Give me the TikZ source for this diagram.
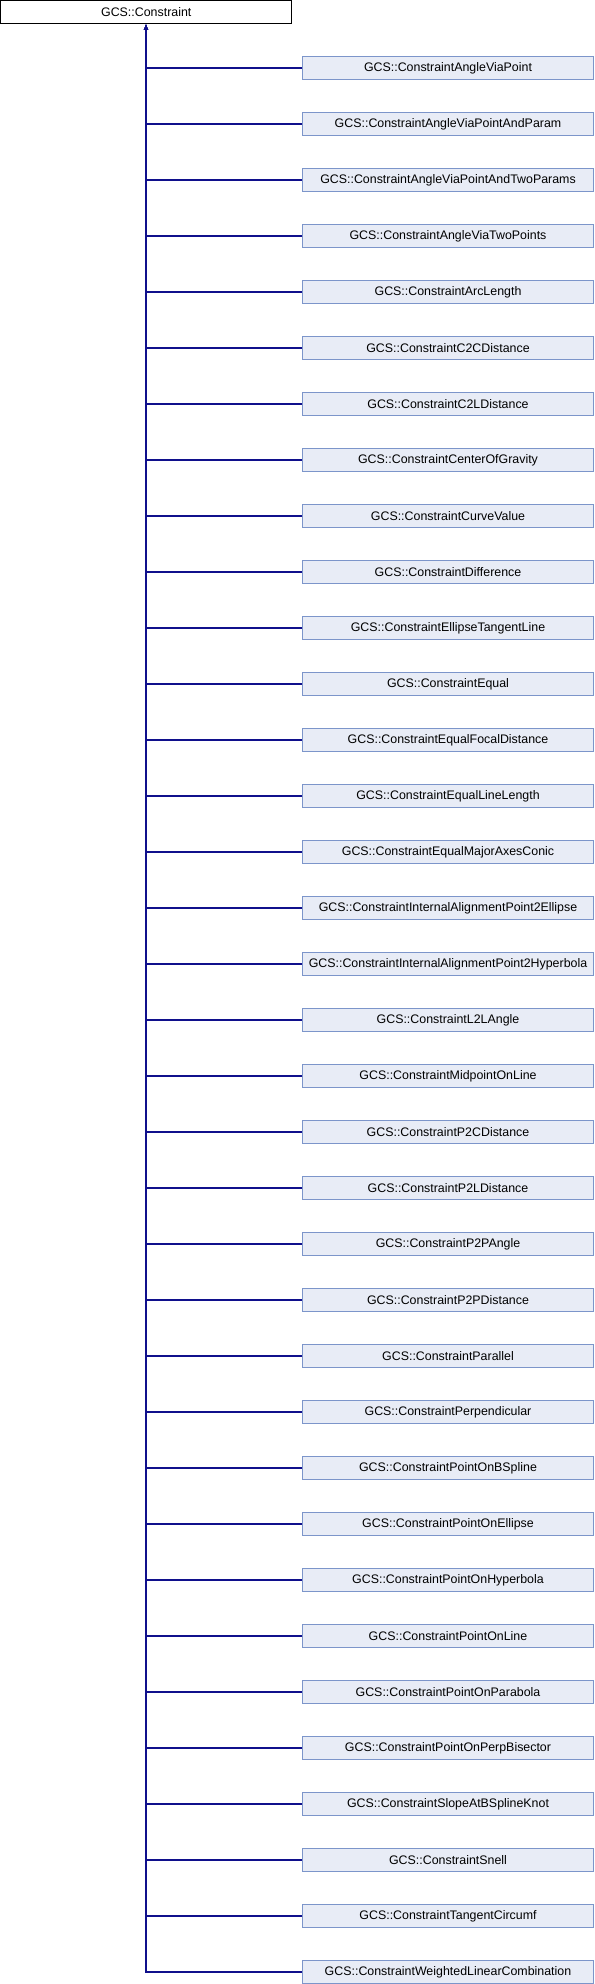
\documentclass[tikz,border=0pt]{standalone}
\usepackage{fontspec}
\setmainfont{Liberation Sans}
\usepackage{tikz}
\usetikzlibrary{arrows.meta}
\usepackage{xcolor}
\definecolor{edgeblue}{RGB}{16,16,140}
\definecolor{boxline}{RGB}{124,149,202}
\definecolor{boxfill}{RGB}{232,236,246}
\tikzset{
  classbox/.style={draw=boxline,fill=boxfill,line width=0.75pt,minimum width=218.25pt,minimum height=17pt,inner sep=0pt,font=\fontsize{9.3}{11}\selectfont},
  basebox/.style={classbox,draw=black,fill=white,minimum width=218.6pt,minimum height=16.9pt},
  inherit/.style={draw=edgeblue,line width=0.9pt,-{Latex[length=3.8pt,width=3.2pt]}}
}
\begin{document}
\begin{tikzpicture}[x=0.75pt,y=-0.75pt]
\useasboundingbox (0,0) rectangle (594,1984);
\node[basebox] (base) at (146.25,11.75) {GCS::Constraint};% the base class
\coordinate (top) at (146,24.5);% arrow tip under the base class

% the derived classes
\node[classbox] (avp) at (448,68) {GCS::ConstraintAngleViaPoint};
\node[classbox] (avpp) at (448,124) {GCS::ConstraintAngleViaPointAndParam};
\node[classbox] (avptp) at (448,180) {GCS::ConstraintAngleViaPointAndTwoParams};
\node[classbox] (avtp) at (448,236) {GCS::ConstraintAngleViaTwoPoints};
\node[classbox] (arc) at (448,292) {GCS::ConstraintArcLength};
\node[classbox] (ccd) at (448,348) {GCS::ConstraintC2CDistance};
\node[classbox] (cld) at (448,404) {GCS::ConstraintC2LDistance};
\node[classbox] (cog) at (448,460) {GCS::ConstraintCenterOfGravity};
\node[classbox] (curve) at (448,516) {GCS::ConstraintCurveValue};
\node[classbox] (diff) at (448,572) {GCS::ConstraintDifference};
\node[classbox] (etl) at (448,628) {GCS::ConstraintEllipseTangentLine};
\node[classbox] (equal) at (448,684) {GCS::ConstraintEqual};
\node[classbox] (efd) at (448,740) {GCS::ConstraintEqualFocalDistance};
\node[classbox] (ell) at (448,796) {GCS::ConstraintEqualLineLength};
\node[classbox] (emac) at (448,852) {GCS::ConstraintEqualMajorAxesConic};
\node[classbox] (iae) at (448,908) {GCS::ConstraintInternalAlignmentPoint2Ellipse};
\node[classbox] (iah) at (448,964) {GCS::ConstraintInternalAlignmentPoint2Hyperbola};
\node[classbox] (lla) at (448,1020) {GCS::ConstraintL2LAngle};
\node[classbox] (mol) at (448,1076) {GCS::ConstraintMidpointOnLine};
\node[classbox] (pcd) at (448,1132) {GCS::ConstraintP2CDistance};
\node[classbox] (pld) at (448,1188) {GCS::ConstraintP2LDistance};
\node[classbox] (ppa) at (448,1244) {GCS::ConstraintP2PAngle};
\node[classbox] (ppd) at (448,1300) {GCS::ConstraintP2PDistance};
\node[classbox] (par) at (448,1356) {GCS::ConstraintParallel};
\node[classbox] (perp) at (448,1412) {GCS::ConstraintPerpendicular};
\node[classbox] (pobs) at (448,1468) {GCS::ConstraintPointOnBSpline};
\node[classbox] (poe) at (448,1524) {GCS::ConstraintPointOnEllipse};
\node[classbox] (poh) at (448,1580) {GCS::ConstraintPointOnHyperbola};
\node[classbox] (pol) at (448,1636) {GCS::ConstraintPointOnLine};
\node[classbox] (pop) at (448,1692) {GCS::ConstraintPointOnParabola};
\node[classbox] (popb) at (448,1748) {GCS::ConstraintPointOnPerpBisector};
\node[classbox] (sbk) at (448,1804) {GCS::ConstraintSlopeAtBSplineKnot};
\node[classbox] (snell) at (448,1860) {GCS::ConstraintSnell};
\node[classbox] (tcirc) at (448,1916) {GCS::ConstraintTangentCircumf};
\node[classbox] (wlc) at (448,1972) {GCS::ConstraintWeightedLinearCombination};

% inheritance edges
\draw[inherit] (avp.west) -| (top);
\draw[inherit] (avpp.west) -| (top);
\draw[inherit] (avptp.west) -| (top);
\draw[inherit] (avtp.west) -| (top);
\draw[inherit] (arc.west) -| (top);
\draw[inherit] (ccd.west) -| (top);
\draw[inherit] (cld.west) -| (top);
\draw[inherit] (cog.west) -| (top);
\draw[inherit] (curve.west) -| (top);
\draw[inherit] (diff.west) -| (top);
\draw[inherit] (etl.west) -| (top);
\draw[inherit] (equal.west) -| (top);
\draw[inherit] (efd.west) -| (top);
\draw[inherit] (ell.west) -| (top);
\draw[inherit] (emac.west) -| (top);
\draw[inherit] (iae.west) -| (top);
\draw[inherit] (iah.west) -| (top);
\draw[inherit] (lla.west) -| (top);
\draw[inherit] (mol.west) -| (top);
\draw[inherit] (pcd.west) -| (top);
\draw[inherit] (pld.west) -| (top);
\draw[inherit] (ppa.west) -| (top);
\draw[inherit] (ppd.west) -| (top);
\draw[inherit] (par.west) -| (top);
\draw[inherit] (perp.west) -| (top);
\draw[inherit] (pobs.west) -| (top);
\draw[inherit] (poe.west) -| (top);
\draw[inherit] (poh.west) -| (top);
\draw[inherit] (pol.west) -| (top);
\draw[inherit] (pop.west) -| (top);
\draw[inherit] (popb.west) -| (top);
\draw[inherit] (sbk.west) -| (top);
\draw[inherit] (snell.west) -| (top);
\draw[inherit] (tcirc.west) -| (top);
\draw[inherit] (wlc.west) -| (top);

\end{tikzpicture}
\end{document}
